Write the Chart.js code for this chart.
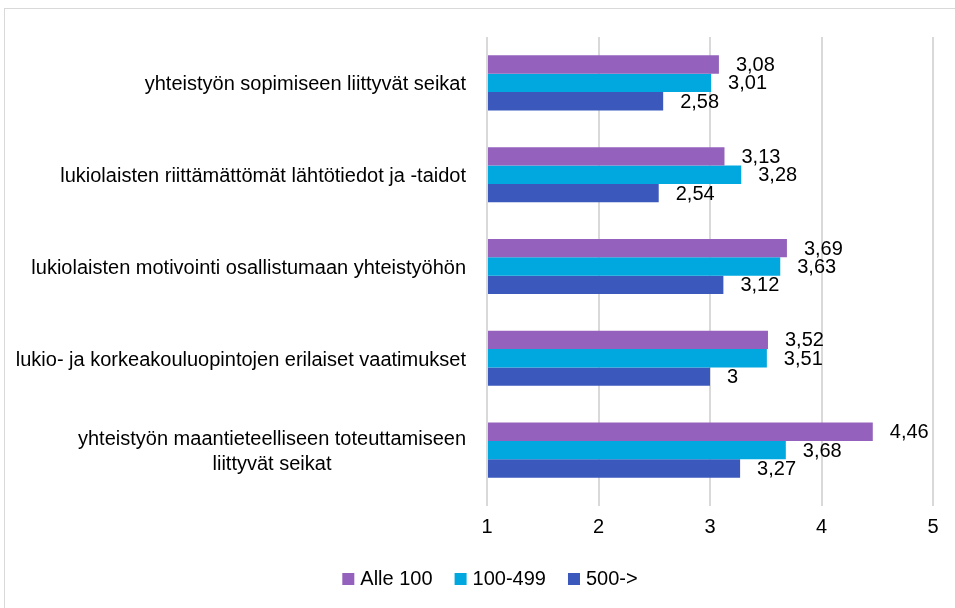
<!DOCTYPE html>
<html><head><meta charset="utf-8">
<script src="https://cdn.jsdelivr.net/npm/chart.js@4"></script>
<style>
html,body{margin:0;padding:0;background:#fff;overflow:hidden;}
#wrap{position:relative;width:955px;height:608px;}
#frame{position:absolute;left:4px;top:8px;width:960px;height:620px;border:1.5px solid #d9d9d9;box-sizing:border-box;}
canvas{position:absolute;left:0;top:0;}
</style></head>
<body><div id="wrap"><div id="frame"></div><canvas id="c" width="955" height="608"></canvas></div>
<script>
const categories = [
  ['yhteistyön sopimiseen liittyvät seikat'],
  ['lukiolaisten riittämättömät lähtötiedot ja -taidot'],
  ['lukiolaisten motivointi osallistumaan yhteistyöhön'],
  ['lukio- ja korkeakouluopintojen erilaiset vaatimukset'],
  ['yhteistyön maantieteelliseen toteuttamiseen', 'liittyvät seikat']
];
const seriesNames = ['Alle 100', '100-499', '500->'];
const alle100 = [3.08, 3.13, 3.69, 3.52, 4.46];
const s100_499 = [3.01, 3.28, 3.63, 3.51, 3.68];
const s500 = [2.58, 2.54, 3.12, 3.00, 3.27];
const xTicks = [1, 2, 3, 4, 5];
const colors = ['#9462BC', '#00A8DF', '#3B58BD'];
const FONT = '"Liberation Sans", Arial, sans-serif';

const fmt = v => String(Math.round(v*100)/100).replace('.', ',');

const labelPlugin = {
  id: 'customLabels',
  afterDatasetsDraw(chart) {
    const ctx = chart.ctx;
    ctx.save();
    ctx.font = '20px ' + FONT;
    ctx.fillStyle = '#000';
    ctx.textBaseline = 'middle';
    ctx.textAlign = 'left';
    chart.data.datasets.forEach((ds, i) => {
      const meta = chart.getDatasetMeta(i);
      meta.data.forEach((bar, j) => {
        ctx.fillText(fmt(ds.data[j]), bar.x + 17, bar.y + 1);
      });
    });
    // category labels
    const y = chart.scales.y;
    const rightEdge = 466;
    const lh = 25;
    categories.forEach((lines, j) => {
      const cy = y.getPixelForValue(j);
      const widths = lines.map(l => ctx.measureText(l).width);
      const maxW = Math.max(...widths);
      const blockCenter = rightEdge - maxW / 2;
      ctx.textAlign = 'center';
      lines.forEach((l, k) => {
        const ly = cy + (k - (lines.length - 1) / 2) * lh + 2;
        ctx.fillText(l, blockCenter, ly);
      });
    });
    // legend
    ctx.textAlign = 'left';
    const box = 12, gap = 6, itemGap = 22, centerX = 490, ly = 579;
    const tw = seriesNames.map(n => ctx.measureText(n).width);
    const total = tw.reduce((a, w) => a + box + gap + w, 0) + itemGap * (seriesNames.length - 1);
    let x = centerX - total / 2;
    seriesNames.forEach((n, i) => {
      ctx.fillStyle = colors[i];
      ctx.fillRect(x, ly - box / 2, box, box);
      ctx.fillStyle = '#000';
      ctx.fillText(n, x + box + gap, ly);
      x += box + gap + tw[i] + itemGap;
    });
    ctx.restore();
  }
};

new Chart(document.getElementById('c'), {
  type: 'bar',
  data: {
    labels: categories.map(c => c.join(' ')),
    datasets: [
      { label: seriesNames[0], data: alle100, backgroundColor: colors[0] },
      { label: seriesNames[1], data: s100_499, backgroundColor: colors[1] },
      { label: seriesNames[2], data: s500, backgroundColor: colors[2] }
    ]
  },
  options: {
    indexAxis: 'y',
    responsive: false,
    animation: false,
    devicePixelRatio: 1,
    layout: { padding: { left: 479, right: 22, top: 37, bottom: 60 } },
    datasets: { bar: { categoryPercentage: 0.6, barPercentage: 1.0, base: 1 } },
    scales: {
      x: {
        min: 1, max: 5,
        afterBuildTicks: s => { s.ticks = xTicks.map(v => ({ value: v })); },
        grid: { color: '#d9d9d9', lineWidth: 2, drawTicks: true, tickLength: 10 },
        border: { display: false },
        ticks: { color: '#000', font: { size: 20, family: FONT }, padding: 9 }
      },
      y: {
        grid: { display: false },
        border: { display: false },
        ticks: { display: false }
      }
    },
    plugins: {
      legend: { display: false },
      tooltip: { enabled: false }
    }
  },
  plugins: [labelPlugin]
});
</script></body></html>
